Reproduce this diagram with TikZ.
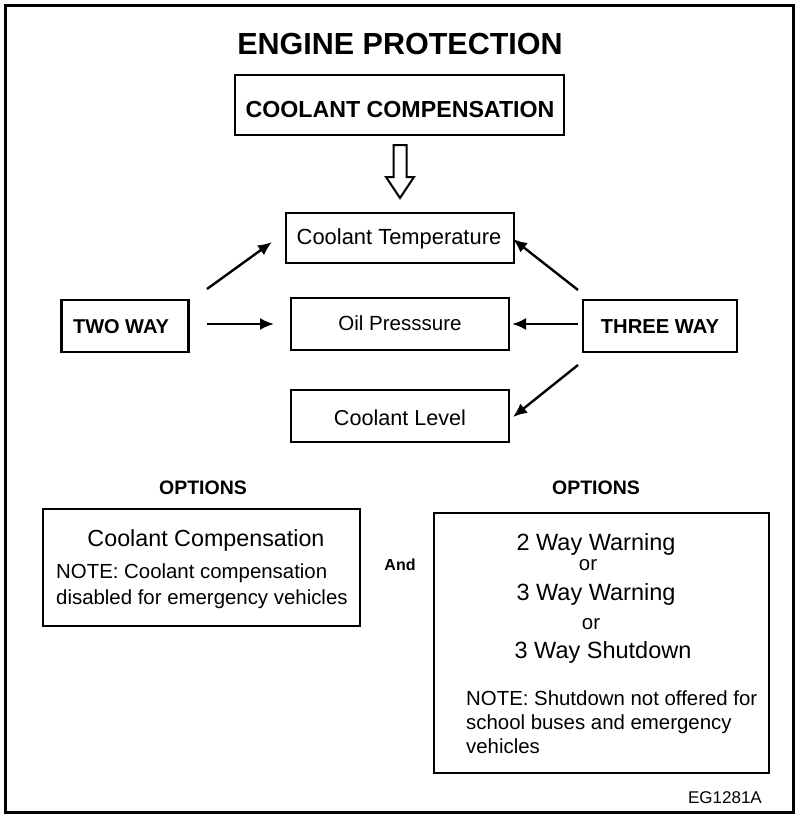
\documentclass[tikz,border=0pt]{standalone}
\usepackage{fontspec}
\setmainfont{Liberation Sans}
\usetikzlibrary{arrows.meta}
\tikzset{
  frame/.style={draw=black, line width=3pt},
  box/.style={draw=black, line width=2.6pt, rectangle, inner sep=0pt},
  conn/.style={line width=2.4pt, -{Latex[length=14pt,width=12pt]}},
  hollow/.style={draw=black, line width=2pt, fill=white, line join=miter},
  lbl/.style={inner sep=0pt, anchor=base},
  notel/.style={inner sep=0pt, anchor=base west},
}
\newcommand{\fs}[1]{\fontsize{#1}{#1}\selectfont}
\begin{document}
\begin{tikzpicture}[x=1pt,y=-1pt]
\useasboundingbox (0,0) rectangle (800,822);
\fill[white] (0,0) rectangle (800,822);
\draw[frame] (5.5,5) rectangle (793,812.5);

% title
\node[lbl] (title) at (400,54) {\fs{30.5}\bfseries ENGINE PROTECTION};

% coolant compensation box
\node[box, minimum width=329pt, minimum height=60pt] (cc) at (399.5,105) {};
\node[lbl] (cctext) at (400,117) {\fs{23.2}\bfseries COOLANT COMPENSATION};

% hollow arrow
\draw[hollow] (393.5,145) -- (406.5,145) -- (406.5,177) -- (414,177) -- (400,198)
  -- (386,177) -- (393.5,177) -- cycle;

% middle boxes
\node[box, minimum width=228pt, minimum height=50pt] (ct) at (400,238) {};
\node[lbl] (cttext) at (399,244.5) {\fs{21.9}Coolant Temperature};
\node[box, minimum width=218pt, minimum height=52pt] (op) at (400,324) {};
\node[lbl] (optext) at (400,330) {\fs{20.5}Oil Presssure};
\node[box, minimum width=218pt, minimum height=52pt] (cl) at (400,416) {};
\node[lbl] (cltext) at (400,425) {\fs{21.6}Coolant Level};

\node[box, minimum width=127pt, minimum height=52pt] (two) at (125,326) {};
\node[lbl] (twotext) at (121,333.5) {\fs{20}\bfseries TWO WAY};
\node[box, minimum width=154pt, minimum height=52pt] (three) at (660,326) {};
\node[lbl] (threetext) at (660,333.5) {\fs{20.2}\bfseries THREE WAY};

% connectors
\coordinate (t1) at (207,289);
\coordinate (t1e) at (272,242);
\coordinate (t2) at (207,324);
\coordinate (t2e) at (274,324);
\coordinate (r1) at (578,290);
\coordinate (r1e) at (513,239);
\coordinate (r2) at (578,324);
\coordinate (r2e) at (512,324);
\coordinate (r3) at (578,365);
\coordinate (r3e) at (513,417);
\draw[conn] (t1) -- (t1e);
\draw[conn] (t2) -- (t2e);
\draw[conn] (r1) -- (r1e);
\draw[conn] (r2) -- (r2e);
\draw[conn] (r3) -- (r3e);

% options
\node[lbl] (opl) at (203,494) {\fs{19.5}\bfseries OPTIONS};
\node[lbl] (opr) at (596,494) {\fs{19.5}\bfseries OPTIONS};
\node[lbl] (and) at (400,570) {\fs{16}\bfseries And};

\node[box, minimum width=317pt, minimum height=117pt] (lb) at (201.5,567.5) {};
\node[lbl] (lb1) at (206,546) {\fs{23.3}Coolant Compensation};
\node[notel] (lb2) at (56,578) {\fs{20.4}NOTE: Coolant compensation};
\node[notel] (lb3) at (56,604) {\fs{20.4}disabled for emergency vehicles};

\node[box, minimum width=335pt, minimum height=260pt] (rb) at (601.5,643) {};
\node[lbl] (rb1) at (596,550) {\fs{23.5}2 Way Warning};
\node[lbl] (rb2) at (588,570) {\fs{20.4}or};
\node[lbl] (rb3) at (596,600) {\fs{23.5}3 Way Warning};
\node[lbl] (rb4) at (591,629) {\fs{20.4}or};
\node[lbl] (rb5) at (603,658) {\fs{23.5}3 Way Shutdown};
\node[notel] (rb6) at (466,705) {\fs{20.4}NOTE: Shutdown not offered for};
\node[notel] (rb7) at (466,729) {\fs{20.4}school buses and emergency};
\node[notel] (rb8) at (466,753) {\fs{20.4}vehicles};

\node[inner sep=0pt, anchor=base east] (code) at (762,803) {\fs{17}EG1281A};
\end{tikzpicture}
\end{document}
